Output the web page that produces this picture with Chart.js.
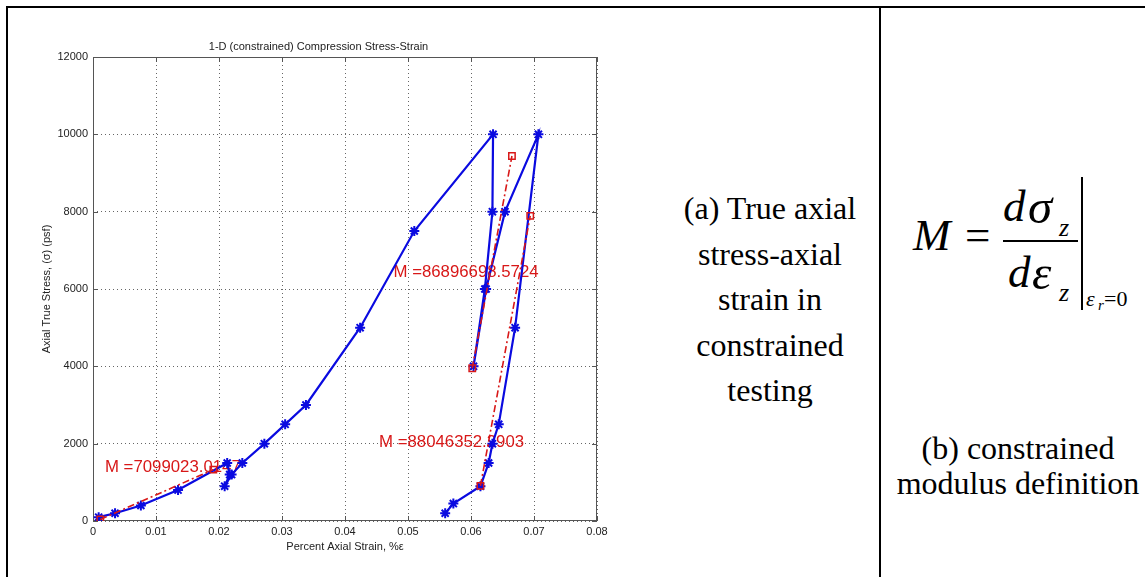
<!DOCTYPE html>
<html>
<head>
<meta charset="utf-8">
<script src="https://cdn.jsdelivr.net/npm/chart.js@4.4.1/dist/chart.umd.min.js"></script>
<style>
  body { margin: 0; background: #fff; width: 1145px; height: 577px; overflow: hidden; position: relative; }
  #chart { position: absolute; left: 0; top: 0; }
  .line { position: absolute; background: #000; z-index: 2; }
  .serif { position: absolute; font-family: "Liberation Serif", "Times New Roman", serif; color: #000; white-space: nowrap; }
  .it { font-style: italic; }
</style>
</head>
<body>
<canvas id="chart" width="620" height="577"></canvas>

<!-- table borders -->
<div class="line" style="left:6px;top:6px;width:1145px;height:2px"></div>
<div class="line" style="left:6px;top:6px;width:2px;height:577px"></div>
<div class="line" style="left:879px;top:6px;width:2px;height:577px"></div>

<!-- caption (a) -->
<div class="serif" style="left:620px;top:186px;width:300px;text-align:center;font-size:32px;line-height:45.6px">
  (a) True axial<br>stress-axial<br>strain in<br>constrained<br>testing
</div>

<!-- formula -->
<div class="serif it" style="left:913px;top:213px;font-size:45px;line-height:45px">M</div>
<div class="serif" style="left:965px;top:213px;font-size:45px;line-height:45px">=</div>
<div class="serif it" style="left:1003px;top:184px;font-size:45px;line-height:45px">d</div>
<div class="serif it" style="left:1028px;top:182px;font-size:49px;line-height:49px">σ</div>
<div class="serif it" style="left:1059px;top:215px;font-size:26px;line-height:26px">z</div>
<div class="line" style="left:1003px;top:240px;width:75px;height:1.5px"></div>
<div class="serif it" style="left:1008px;top:250px;font-size:45px;line-height:45px">d</div>
<div class="serif it" style="left:1032px;top:248px;font-size:49px;line-height:49px">ε</div>
<div class="serif it" style="left:1059px;top:280px;font-size:26px;line-height:26px">z</div>
<div class="line" style="left:1081px;top:177px;width:1.5px;height:133px"></div>
<div class="serif it" style="left:1086px;top:288px;font-size:22px;line-height:22px">ε</div>
<div class="serif it" style="left:1098px;top:298px;font-size:15px;line-height:15px">r</div>
<div class="serif" style="left:1104px;top:288px;font-size:22px;line-height:22px">=0</div>

<!-- caption (b) -->
<div class="serif" style="left:868px;top:431px;width:300px;text-align:center;font-size:32px;line-height:35px">
  (b) constrained<br>modulus definition
</div>

<script>
// Stress-strain test record (blue)
const strain = [0.0009, 0.0035, 0.0076, 0.0135, 0.0213, 0.0217, 0.0209, 0.0220, 0.0237, 0.0272, 0.0305, 0.0338, 0.0424, 0.0510, 0.0635,
                0.0634, 0.0622, 0.0604, 0.0624, 0.0654, 0.0707, 0.0670, 0.0644, 0.0634, 0.0628, 0.0615, 0.0572, 0.0559];
const stress = [100, 200, 400, 800, 1500, 1200, 900, 1200, 1500, 2000, 2500, 3000, 5000, 7500, 10000,
                8000, 6000, 4000, 6000, 8000, 10000, 5000, 2500, 2000, 1500, 900, 450, 200];

// Modulus fit lines (red, end points)
const fit1Strain = [0.00116, 0.0191];
const fit1Stress = [40, 1330];
const fit2Strain = [0.0602, 0.0665];
const fit2Stress = [3950, 9440];
const fit3Strain = [0.0615, 0.0694];
const fit3Stress = [910, 7890];

// Modulus labels
const modulusText = ['M =7099023.0147', 'M =86896698.5724', 'M =88046352.2903'];
const labelStrain = [0.0019, 0.0477, 0.0454];
const labelStress = [1388, 6431, 2023];

// Ticks
const xTicks = [0, 0.01, 0.02, 0.03, 0.04, 0.05, 0.06, 0.07, 0.08];
const xTickLabels = ['0', '0.01', '0.02', '0.03', '0.04', '0.05', '0.06', '0.07', '0.08'];
const yTicks = [0, 2000, 4000, 6000, 8000, 10000, 12000];
const yTickLabels = ['0', '2000', '4000', '6000', '8000', '10000', '12000'];

const toPoints = (xs, ys) => xs.map((x, i) => ({ x: x, y: ys[i] }));

const red = '#d81818';
const blue = '#0a0ae0';

const fitStyle = {
  showLine: true,
  borderColor: red,
  borderWidth: 1.6,
  borderDash: [7, 3, 2, 3],
  pointStyle: 'rect',
  pointRadius: 4.5,
  pointBorderWidth: 1.5,
  pointBorderColor: red,
  pointBackgroundColor: 'rgba(0,0,0,0)'
};

// box, inner ticks and modulus labels (labels sit under the lines)
const extras = {
  id: 'extras',
  beforeDatasetsDraw(chart) {
    const { ctx, chartArea: a, scales } = chart;
    ctx.save();
    ctx.strokeStyle = '#555';
    ctx.lineWidth = 1;
    ctx.strokeRect(a.left + 0.5, a.top + 0.5, a.right - a.left - 1, a.bottom - a.top - 1);
    ctx.beginPath();
    xTicks.forEach(v => {
      const px = Math.round(scales.x.getPixelForValue(v)) + 0.5;
      ctx.moveTo(px, a.bottom); ctx.lineTo(px, a.bottom - 5);
      ctx.moveTo(px, a.top); ctx.lineTo(px, a.top + 5);
    });
    yTicks.forEach(v => {
      const py = Math.round(scales.y.getPixelForValue(v)) + 0.5;
      ctx.moveTo(a.left, py); ctx.lineTo(a.left + 5, py);
      ctx.moveTo(a.right, py); ctx.lineTo(a.right - 5, py);
    });
    ctx.stroke();

    ctx.fillStyle = red;
    ctx.font = '16.8px "Liberation Sans", Arial, sans-serif';
    ctx.textAlign = 'left';
    ctx.textBaseline = 'middle';
    modulusText.forEach((t, i) => {
      ctx.fillText(t, scales.x.getPixelForValue(labelStrain[i]), scales.y.getPixelForValue(labelStress[i]));
    });
    ctx.restore();
  }
};

Chart.defaults.font.family = '"Liberation Sans", Arial, sans-serif';
Chart.defaults.font.size = 11;
Chart.defaults.color = '#222';

const ctx = document.getElementById('chart').getContext('2d');
const chart = new Chart(ctx, {
  type: 'scatter',
  data: {
    datasets: [
      Object.assign({ data: toPoints(fit1Strain, fit1Stress) }, fitStyle),
      Object.assign({ data: toPoints(fit2Strain, fit2Stress) }, fitStyle),
      Object.assign({ data: toPoints(fit3Strain, fit3Stress) }, fitStyle),
      {
        data: toPoints(strain, stress),
        showLine: true,
        borderColor: blue,
        borderWidth: 2.2,
        pointStyle: 'star',
        pointRadius: 5,
        pointBorderWidth: 2,
        pointBorderColor: blue,
        pointBackgroundColor: blue
      }
    ]
  },
  options: {
    responsive: false,
    animation: false,
    devicePixelRatio: 1,
    layout: { padding: { left: 40, top: 0, right: 23, bottom: 0 } },
    plugins: {
      legend: { display: false },
      tooltip: { enabled: false },
      title: {
        display: true,
        text: '1-D (constrained) Compression Stress-Strain',
        font: { size: 11, weight: 'normal' },
        color: '#222',
        padding: { top: 40, bottom: 3.8 }
      }
    },
    scales: {
      x: {
        type: 'linear',
        min: 0, max: 0.08,
        afterBuildTicks: s => { s.ticks = xTicks.map(v => ({ value: v })); },
        afterFit: s => { s.height = 56; },
        ticks: { padding: 4, maxRotation: 0, autoSkip: false, callback: (v, i) => xTickLabels[i] },
        grid: { color: '#666', drawTicks: false },
        border: { display: false, dash: [1, 3] },
        title: { display: true, text: 'Percent Axial Strain, %ε', padding: { top: 0, bottom: 23 } }
      },
      y: {
        type: 'linear',
        min: 0, max: 12000,
        afterBuildTicks: s => { s.ticks = yTicks.map(v => ({ value: v })); },
        afterFit: s => { s.width = 53; },
        ticks: { padding: 5, autoSkip: false, callback: (v, i) => yTickLabels[i] },
        grid: { color: '#666', drawTicks: false },
        border: { display: false, dash: [1, 3] },
        title: { display: true, text: 'Axial True Stress, (σ) (psf)', padding: { top: 0, bottom: 0 } }
      }
    }
  },
  plugins: [extras]
});
</script>
</body>
</html>
